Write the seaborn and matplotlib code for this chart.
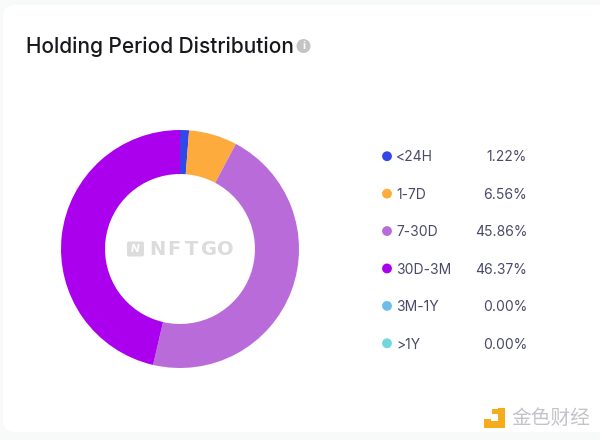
import matplotlib
matplotlib.use('Agg')
import matplotlib.pyplot as plt
from matplotlib.patches import FancyBboxPatch, Circle, Rectangle
import pandas as pd
import seaborn as sns

periods = ['<24H', '1-7D', '7-30D', '30D-3M', '3M-1Y', '>1Y']
shares = [1.22, 6.56, 45.86, 46.37, 0.00, 0.00]
period_colors = ['#3346e8', '#fdab3d', '#b96bd9', '#ab00ee', '#6dbdec', '#6fd8dc']

W, H = 600, 440

sns.set_theme(style='white')
plt.rcParams['font.family'] = ['Inter', 'Noto Sans CJK SC', 'DejaVu Sans']


def px_axes(fig, x0, y0, x1, y1, **kw):
    # axes placed in reference pixels, y counted from the top
    return fig.add_axes([x0 / W, 1 - y1 / H, (x1 - x0) / W, (y1 - y0) / H], **kw)


fig = plt.figure(figsize=(W / 100, H / 100), dpi=100, facecolor='#f8f9f9')

# page card and page furniture
bg = px_axes(fig, 0, 0, W, H)
bg.set_xlim(0, W)
bg.set_ylim(H, 0)
bg.axis('off')
bg.add_patch(FancyBboxPatch((3, 5), W + 20, 427, boxstyle='round,pad=0,rounding_size=12',
                            fc='white', ec='none'))
bg.text(26, 47, 'Holding Period Distribution', fontsize=15, color='#17171c',
        va='center', ha='left', fontweight='medium')
bg.add_patch(Circle((303.5, 46), 7, fc='#c4c4c6', ec='none'))
bg.text(303.5, 46, 'i', fontsize=8, color='white', ha='center', va='center', fontweight='bold')

# donut
pie_ax = px_axes(fig, 61, 130, 299, 368)
pie_ax.pie(shares, colors=period_colors, startangle=90, counterclock=False, radius=1,
           wedgeprops={'width': 0.37, 'linewidth': 0}, normalize=True)
pie_ax.set_xlim(-1, 1)
pie_ax.set_ylim(-1, 1)

# watermark in the hole
top = px_axes(fig, 0, 0, W, H)
top.set_xlim(0, W)
top.set_ylim(H, 0)
top.axis('off')
top.patch.set_alpha(0)
top.add_patch(FancyBboxPatch((127, 241.5), 17, 15, boxstyle='round,pad=0,rounding_size=2',
                             fc='#dcdcdc', ec='none'))
top.text(135.5, 249.5, 'N', fontsize=8, color='white', ha='center', va='center',
         fontweight='bold', style='italic')
for i, ch in enumerate('NFTGO'):
    top.text(157 + i * 17.2, 249.5, ch, fontsize=14, color='#dcdcdc', ha='center', va='center',
             family='DejaVu Sans', fontweight='bold')

# bottom right site mark
top.add_patch(Rectangle((484, 408), 21, 20, fc='#f5ac1b', ec='none'))
top.add_patch(Rectangle((484, 408), 14, 13, fc='white', ec='none'))
top.add_patch(Rectangle((492, 409), 6, 5, fc='#f5ac1b', ec='none'))
top.add_patch(Rectangle((484, 419), 7, 7, fc='#f5ac1b', ec='none'))
top.text(511, 419, '金色财经', fontsize=14.2, color='#c2c4c8', ha='left', va='center')

# legend rows, one per period
legend_df = pd.DataFrame({'period': periods, 'row': range(len(periods)), 'x': 0})
leg = px_axes(fig, 377, 137.5, 397, 362)
sns.scatterplot(data=legend_df, x='x', y='row', hue='period', palette=period_colors,
                s=50, linewidth=0, legend=False, ax=leg)
leg.set_xlim(-1, 1)
leg.set_ylim(len(periods) - 0.5, -0.5)
leg.axis('off')
leg.patch.set_alpha(0)

text_ax = px_axes(fig, 396, 138.5, 527, 363.5)
text_ax.set_xlim(0, 1)
text_ax.set_ylim(len(periods) - 0.5, -0.5)
text_ax.axis('off')
text_ax.patch.set_alpha(0)
for i, (p, s) in enumerate(zip(periods, shares)):
    text_ax.text(0, i, p, fontsize=10, color='#4a4a68', va='center', ha='left')
    text_ax.text(1, i, f'{s:.2f}%', fontsize=10, color='#4a4a68', va='center', ha='right')

fig.savefig('out.png', dpi=100, facecolor=fig.get_facecolor())
